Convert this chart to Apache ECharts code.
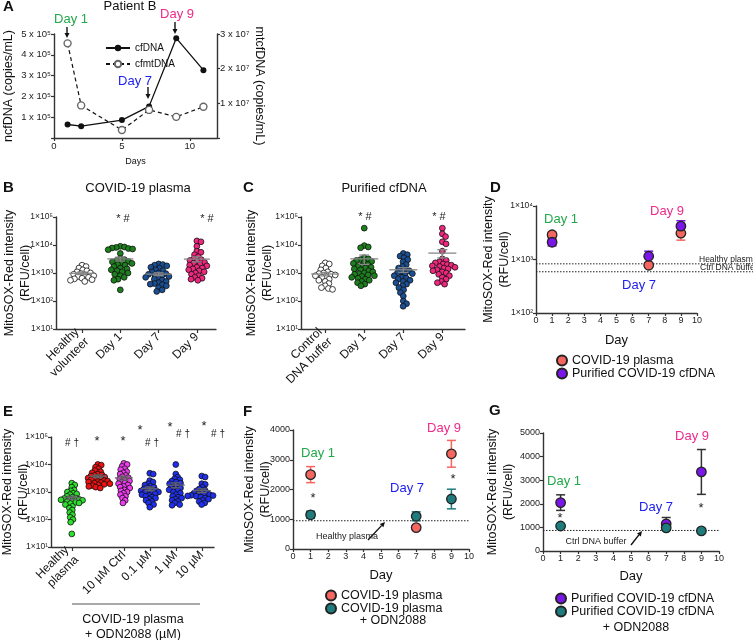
<!DOCTYPE html>
<html>
<head>
<meta charset="utf-8">
<script src="https://cdn.jsdelivr.net/npm/echarts@6/dist/echarts.min.js"></script>
<style>
html, body { margin: 0; padding: 0; background: #fff; }
#main { width: 753px; height: 640px; }
</style>
</head>
<body>
<div id="main"></div>
<script>
// ---- panel A: patient B time course
const daysA = [1, 2, 5, 7, 9, 11];
const cfDNA = [65000, 57000, 86000, 152000, 480000, 326000];
const cfmtDNA = [27300000, 9400000, 2300000, 8100000, 6100000, 9000000];

// ---- panel B: COVID-19 plasma (RFU/cell)
const catsB = ['Healthy\nvolunteer', 'Day 1', 'Day 7', 'Day 9'];
const bHealthy = [1900, 1700, 1500, 1300, 1200, 1100, 1000, 950, 900, 850, 800, 750, 700, 650, 620, 580, 550, 500];
const bDay1 = [9000, 8500, 8200, 7800, 7500, 7200, 6800, 5000, 3200, 3000, 2800, 2600, 2500, 2300, 2200, 2000, 1900, 1700, 1500, 1400, 1300, 1200, 1100, 1000, 900, 800, 700, 600, 550, 250];
const bDay7 = [2100, 2000, 1900, 1800, 1600, 1500, 1300, 1200, 1100, 1000, 950, 900, 850, 800, 750, 700, 650, 600, 550, 500, 450, 420, 400, 380, 350, 300, 250, 220];
const bDay9 = [14000, 13000, 9000, 6000, 5500, 4500, 3800, 3200, 3000, 2800, 2600, 2400, 2200, 2000, 1900, 1800, 1600, 1500, 1400, 1300, 1200, 1100, 1000, 900, 800, 700, 650, 600, 550];

// ---- panel C: purified cfDNA
const catsC = ['Control\nDNA buffer', 'Day 1', 'Day 7', 'Day 9'];
const cCtrl = [2300, 2100, 1800, 1500, 1300, 1100, 1000, 950, 900, 850, 800, 750, 700, 600, 550, 500, 420, 350, 300, 280, 260];
const cDay1 = [40000, 9500, 8500, 8000, 3500, 3200, 3000, 2800, 2600, 2400, 2200, 2000, 1800, 1700, 1600, 1500, 1400, 1300, 1200, 1100, 1000, 950, 900, 850, 800, 750, 700, 650, 600, 550, 500, 450, 400, 350];
const cDay7 = [5000, 4500, 4000, 3500, 3000, 2500, 2000, 1700, 1500, 1300, 1200, 1100, 1000, 950, 900, 800, 700, 650, 600, 550, 500, 450, 400, 350, 300, 250, 200, 150, 100, 80, 65];
const cDay9 = [40000, 25000, 20000, 13000, 11000, 6000, 3200, 2800, 2500, 2300, 2100, 2000, 1900, 1800, 1700, 1600, 1500, 1400, 1300, 1200, 1100, 1000, 900, 800, 700, 600, 500, 450, 400];

// ---- panel D: mean +/- SEM, log scale
const daysT = [1, 7, 9];
const plasmaD = [2900, 780, 3100];
const plasmaSemD = [350, 60, 800];
const cfdnaD = [2100, 1150, 4200];
const cfdnaSemD = [300, 280, 1100];
const healthyLineD = 830;
const ctrlLineD = 590;

// ---- panel E: plasma + ODN2088
const catsE = ['Healthy\nplasma', 'no ODN', '10 µM Ctrl', '0.1 µM', '1 µM', '10 µM'];
const eHealthy = [2100, 1800, 1500, 1200, 1100, 1000, 900, 850, 800, 700, 650, 600, 580, 560, 540, 520, 500, 480, 450, 420, 400, 380, 350, 300, 260, 220, 180, 150, 120, 100, 80, 30];
const eNoOdn = [10000, 9500, 8000, 7000, 6000, 5500, 5000, 4500, 4200, 4000, 3800, 3500, 3300, 3200, 3000, 2900, 2800, 2600, 2500, 2400, 2300, 2200, 2100, 2000, 1900, 1800, 1700, 1600, 1500, 1400];
const eCtrl10 = [11000, 10000, 8500, 7000, 6500, 5500, 5000, 4500, 4000, 3600, 3300, 3000, 2800, 2500, 2300, 2100, 2000, 1800, 1600, 1500, 1400, 1200, 1100, 1000, 900, 800, 700, 600, 500, 400];
const eOdn01 = [4800, 4500, 2600, 2300, 2000, 1800, 1600, 1500, 1400, 1300, 1200, 1150, 1100, 1050, 1000, 950, 900, 850, 800, 750, 700, 650, 600, 550, 500, 450, 400, 350, 280];
const eOdn1 = [10000, 4500, 3500, 3000, 2800, 2500, 2300, 2100, 2000, 1800, 1600, 1500, 1400, 1300, 1200, 1100, 1000, 900, 800, 700, 650, 600, 550, 500, 450, 400, 350, 330];
const eOdn10 = [3800, 3500, 2000, 1900, 1500, 1300, 1200, 1100, 1000, 950, 900, 850, 800, 780, 760, 740, 720, 700, 650, 600, 550, 500, 450, 400, 350];

// ---- panels F and G: mean +/- SEM, linear
const plasmaF = [2500, 720, 3200];
const plasmaSemF = [270, 60, 450];
const plasmaOdnF = [1150, 1100, 1680];
const plasmaOdnSemF = [120, 150, 330];
const healthyLineF = 950;
const cfdnaG = [2050, 1150, 3350];
const cfdnaSemG = [330, 270, 950];
const cfdnaOdnG = [1060, 980, 850];
const cfdnaOdnSemG = [50, 60, 30];
const ctrlLineG = 870;

const FF = '"Liberation Sans", Arial, sans-serif';
const AX = '#333';
const SUP = ['⁰', '¹', '²', '³', '⁴', '⁵', '⁶', '⁷'];
const C_PLASMA = '#F4665F', C_PURE = '#7B16E8', C_TEAL = '#1E7C7C';
const C_D1 = '#21A84A', C_D7 = '#2020F0', C_D9 = '#EE2A8A';

// simple beeswarm: spread points sideways in pixel space
function swarm(vals, idx, unitPx, decadePx, d) {
  const pts = [], out = [];
  const order = vals.map((v, i) => i).sort((a, b) => vals[b] - vals[a]);
  order.forEach(i => {
    const y = Math.log10(vals[i]) * decadePx;
    const near = pts.filter(p => Math.abs(p.y - y) < d);
    const cands = [0];
    near.forEach(p => {
      const w = Math.sqrt(d * d - (p.y - y) * (p.y - y));
      cands.push(p.x + w, p.x - w);
    });
    cands.sort((a, b) => Math.abs(a) - Math.abs(b));
    const x = cands.find(c => near.every(p => (p.x - c) * (p.x - c) + (p.y - y) * (p.y - y) >= d * d - 0.01));
    pts.push({ x, y });
    out.push([idx + x / unitPx, vals[i]]);
  });
  return out;
}

function meanSem(arr) {
  const n = arr.length;
  const m = arr.reduce((a, b) => a + b, 0) / n;
  const sd = Math.sqrt(arr.reduce((a, b) => a + (b - m) * (b - m), 0) / (n - 1));
  return [m, sd / Math.sqrt(n)];
}

function barRender(half, cap, color, lw) {
  return function (params, api) {
    const x = api.value(0), m = api.value(1), s = api.value(2);
    const c = api.coord([x, m]), t = api.coord([x, m + s]), b = api.coord([x, m - s]);
    const st = { stroke: color, lineWidth: lw };
    const kids = [
      { type: 'line', shape: { x1: c[0], y1: t[1], x2: c[0], y2: b[1] }, style: st },
      { type: 'line', shape: { x1: c[0] - cap, y1: t[1], x2: c[0] + cap, y2: t[1] }, style: st },
      { type: 'line', shape: { x1: c[0] - cap, y1: b[1], x2: c[0] + cap, y2: b[1] }, style: st }
    ];
    if (half > 0) kids.push({ type: 'line', shape: { x1: c[0] - half, y1: c[1], x2: c[0] + half, y2: c[1] }, style: st });
    return { type: 'group', children: kids };
  };
}

function axisBase(extra) {
  const a = {
    nameMoveOverlap: false,
    axisLine: { show: true, onZero: false, lineStyle: { color: AX, width: 1.4 } },
    axisTick: { show: true, length: 3, lineStyle: { color: AX, width: 1.2 } },
    axisLabel: { color: '#222', fontSize: 8.5, margin: 3, fontFamily: FF, hideOverlap: false, showMinLabel: true },
    splitLine: { show: false },
    nameTextStyle: { color: '#111', fontSize: 12.5, fontFamily: FF, lineHeight: 16 }
  };
  for (const k in extra) {
    if (typeof extra[k] === 'object' && !Array.isArray(extra[k]) && a[k]) Object.assign(a[k], extra[k]);
    else a[k] = extra[k];
  }
  return a;
}

const logFmt = v => '1×10' + SUP[Math.round(Math.log10(v))];
const plainFmt = v => String(v);
const YNAME = 'MitoSOX-Red intensity\n(RFU/cell)';

function logY(grid, gap, min, max) {
  return axisBase({ type: 'log', logBase: 10, gridIndex: grid, min: min, max: max,
    name: YNAME, nameLocation: 'middle', nameGap: gap,
    axisLabel: { formatter: logFmt } });
}
function catX(grid, cats, min, max) {
  const ticks = cats.map((c, i) => i);
  return axisBase({ type: 'value', gridIndex: grid, min: min, max: max,
    axisTick: { customValues: ticks, length: 4 },
    axisLabel: { customValues: ticks, formatter: v => cats[Math.round(v)], rotate: 45, fontSize: 12, margin: 6, color: '#111', lineHeight: 14 } });
}
function dayX(grid, gap) {
  return axisBase({ type: 'value', gridIndex: grid, min: 0, max: 10, interval: 1,
    name: 'Day', nameLocation: 'middle', nameGap: gap,
    nameTextStyle: { fontSize: 13 }, axisLabel: { fontSize: 9, formatter: plainFmt } });
}

const grids = [
  { left: 54, top: 34, width: 163, height: 104 },   // 0 A
  { left: 56, top: 217, width: 160, height: 112 },  // 1 B
  { left: 301, top: 217, width: 164, height: 112 }, // 2 C
  { left: 536, top: 206, width: 161, height: 107 }, // 3 D
  { left: 536, top: 206, width: 217, height: 107 }, // 4 D reference lines
  { left: 51, top: 437, width: 163, height: 110 },  // 5 E
  { left: 293, top: 430, width: 176, height: 119 }, // 6 F
  { left: 543, top: 433, width: 176, height: 118 }  // 7 G
].map(g => Object.assign({ outerBoundsMode: 'none', containLabel: false }, g));

const xAxes = [
  axisBase({ type: 'value', gridIndex: 0, min: 0, max: 12, interval: 5, name: 'Days', nameLocation: 'middle', nameGap: 16,
    nameTextStyle: { fontSize: 9 }, axisLabel: { fontSize: 9.5, showMaxLabel: false, formatter: plainFmt } }),
  catX(1, catsB, -0.68, 3.5),
  catX(2, catsC, -0.62, 3.58),
  dayX(3, 19),
  { type: 'value', gridIndex: 4, min: 0, max: 13.5, show: false },
  catX(5, catsE, -0.8, 5.47),
  dayX(6, 18),
  dayX(7, 17)
];

const yAxes = [
  axisBase({ type: 'value', gridIndex: 0, min: 0, max: 500000, interval: 100000, position: 'left',
    name: 'ncfDNA (copies/mL)', nameLocation: 'middle', nameGap: 37,
    axisLabel: { fontSize: 9.5, formatter: v => v === 0 ? '' : (v / 1e5) + ' x 10⁵' } }),
  axisBase({ type: 'value', gridIndex: 0, min: 0, max: 30000000, interval: 10000000, position: 'right',
    name: 'mtcfDNA (copies/mL)', nameLocation: 'middle', nameGap: 34, nameRotate: -90,
    axisLabel: { fontSize: 9.5, formatter: v => v === 0 ? '' : (v / 1e7) + ' x 10⁷' } }),
  logY(1, 22, 10, 100000),
  logY(2, 25, 10, 100000),
  logY(3, 23, 100, 10000),
  { type: 'log', logBase: 10, gridIndex: 4, min: 100, max: 10000, show: false },
  logY(5, 19, 10, 100000),
  axisBase({ type: 'value', gridIndex: 6, min: 0, max: 4000, interval: 1000, name: YNAME, nameLocation: 'middle', nameGap: 19,
    axisLabel: { fontSize: 9, formatter: plainFmt } }),
  axisBase({ type: 'value', gridIndex: 7, min: 0, max: 5000, interval: 1000, name: YNAME, nameLocation: 'middle', nameGap: 26,
    axisLabel: { fontSize: 9, formatter: plainFmt } })
];

const series = [];

// A
series.push({ name: 'cfDNA', type: 'line', xAxisIndex: 0, yAxisIndex: 0,
  data: daysA.map((d, i) => [d, cfDNA[i]]), symbol: 'circle', symbolSize: 6,
  lineStyle: { color: '#111', width: 1.3 }, itemStyle: { color: '#111' } });
series.push({ name: 'cfmtDNA', type: 'line', xAxisIndex: 0, yAxisIndex: 1,
  data: daysA.map((d, i) => [d, cfmtDNA[i]]), symbol: 'circle', symbolSize: 7,
  lineStyle: { color: '#111', width: 1.2, type: [4, 3] },
  itemStyle: { color: '#fff', borderColor: '#666', borderWidth: 1.4 } });

// B, C, E swarms with mean +/- SEM
const swarmPanels = [
  { grid: 1, y: 2, unit: 38.1, dec: 28, gap: 4.2, half: 13, lc: '#888', groups: [[bHealthy, '#fff'], [bDay1, '#1E7F1E'], [bDay7, '#1B4F93'], [bDay9, '#F0277F']] },
  { grid: 2, y: 3, unit: 39, dec: 28, gap: 4.2, half: 14, lc: '#888', groups: [[cCtrl, '#fff'], [cDay1, '#1E7F1E'], [cDay7, '#1B4F93'], [cDay9, '#F0277F']] },
  { grid: 5, y: 6, unit: 26, dec: 27.5, gap: 3.5, half: 9, lc: '#666', groups: [[eHealthy, '#2EE02E'], [eNoOdn, '#EE1111'], [eCtrl10, '#F03CF0'], [eOdn01, '#1F2FEE'], [eOdn1, '#1F2FEE'], [eOdn10, '#1F2FEE']] }
];
swarmPanels.forEach(p => {
  p.groups.forEach((g, i) => {
    series.push({ type: 'scatter', xAxisIndex: p.grid, yAxisIndex: p.y, symbolSize: 5.8,
      data: swarm(g[0], i, p.unit, p.dec, p.gap),
      itemStyle: { color: g[1], borderColor: '#111', borderWidth: 0.8, opacity: 1 }, z: 2 });
  });
  series.push({ type: 'custom', xAxisIndex: p.grid, yAxisIndex: p.y, z: 3,
    renderItem: barRender(p.half, 5, p.lc, 1.3), encode: { x: 0, y: 1 },
    data: p.groups.map((g, i) => [i].concat(meanSem(g[0]))) });
});

// D / F / G mean points with error bars
function pointPair(name, grid, yIdx, means, sems, color, barColor) {
  series.push({ type: 'custom', xAxisIndex: grid, yAxisIndex: yIdx, z: 3,
    renderItem: barRender(0, 4.5, barColor, 1.5), encode: { x: 0, y: 1 },
    data: daysT.map((d, i) => [d, means[i], sems[i]]) });
  series.push({ name: name, type: 'scatter', xAxisIndex: grid, yAxisIndex: yIdx, z: 4, symbolSize: 9.5,
    data: daysT.map((d, i) => [d, means[i]]),
    itemStyle: { color: color, borderColor: '#222', borderWidth: 1.3, opacity: 1 } });
}
pointPair('COVID-19 plasma', 3, 4, plasmaD, plasmaSemD, C_PLASMA, C_PLASMA);
pointPair('Purified COVID-19 cfDNA', 3, 4, cfdnaD, cfdnaSemD, C_PURE, C_PURE);
pointPair('COVID-19 plasma', 6, 7, plasmaF, plasmaSemF, C_PLASMA, C_PLASMA);
pointPair('COVID-19 plasma + ODN2088', 6, 7, plasmaOdnF, plasmaOdnSemF, C_TEAL, C_TEAL);
pointPair('Purified COVID-19 cfDNA', 7, 8, cfdnaG, cfdnaSemG, C_PURE, '#333');
pointPair('Purified COVID-19 cfDNA + ODN2088', 7, 8, cfdnaOdnG, cfdnaOdnSemG, C_TEAL, C_TEAL);

// dotted reference lines
const dotted = { color: '#222', width: 1, type: [1.5, 1.5] };
[healthyLineD, ctrlLineD].forEach(v => series.push({ type: 'line', xAxisIndex: 4, yAxisIndex: 5, symbol: 'none', z: 1,
  data: [[0, v], [13.5, v]], lineStyle: dotted, silent: true }));
series.push({ type: 'line', xAxisIndex: 6, yAxisIndex: 7, symbol: 'none', z: 1,
  data: [[0, healthyLineF], [10, healthyLineF]], lineStyle: dotted, silent: true });
series.push({ type: 'line', xAxisIndex: 7, yAxisIndex: 8, symbol: 'none', z: 1,
  data: [[0, ctrlLineG], [10, ctrlLineG]], lineStyle: dotted, silent: true });

// ---- text and arrows
function T(text, x, y, size, color, o) {
  o = o || {};
  return { type: 'text', x: x, y: y, z: 10, style: { text: text, fontSize: size, fontFamily: FF, fill: color,
    fontWeight: o.bold ? 'bold' : 'normal', align: o.align || 'center', verticalAlign: 'middle' } };
}
function arrow(x1, y1, x2, y2, h) {
  h = h || 5;
  const a = Math.atan2(y2 - y1, x2 - x1);
  const bx = x2 - h * Math.cos(a), by = y2 - h * Math.sin(a);
  const px = -Math.sin(a) * h * 0.5, py = Math.cos(a) * h * 0.5;
  return { type: 'group', z: 10, children: [
    { type: 'line', shape: { x1: x1, y1: y1, x2: bx, y2: by }, style: { stroke: '#111', lineWidth: 1.4 } },
    { type: 'polygon', shape: { points: [[x2, y2], [bx + px, by + py], [bx - px, by - py]] }, style: { fill: '#111' } }
  ] };
}

const graphics = [
  T('A', 3, 7, 15, '#111', { bold: true, align: 'left' }),
  T('B', 3, 188, 15, '#111', { bold: true, align: 'left' }),
  T('C', 243, 188, 15, '#111', { bold: true, align: 'left' }),
  T('D', 490, 188, 15, '#111', { bold: true, align: 'left' }),
  T('E', 3, 412, 15, '#111', { bold: true, align: 'left' }),
  T('F', 243, 412, 15, '#111', { bold: true, align: 'left' }),
  T('G', 489, 411, 15, '#111', { bold: true, align: 'left' }),
  T('Patient B', 130, 6, 13, '#111'),
  T('COVID-19 plasma', 138, 188, 13, '#111'),
  T('Purified cfDNA', 384, 188, 13, '#111'),
  // A
  T('Day 1', 71, 19, 13, C_D1), arrow(67, 27, 67, 38),
  T('Day 9', 177, 14, 13, C_D9), arrow(175, 22, 175, 34),
  T('Day 7', 135, 81, 13, C_D7), arrow(148, 87, 148, 99),
  // B, C
  T('* #', 123, 219, 11, '#222'), T('* #', 207, 219, 11, '#222'),
  T('* #', 365, 217, 11, '#222'), T('* #', 439, 217, 11, '#222'),
  // D
  T('Day 1', 561, 219, 13, C_D1), T('Day 9', 667, 211, 13, C_D9), T('Day 7', 639, 285, 13, C_D7),
  T('Healthy plasma', 699, 260, 8.5, '#222', { align: 'left' }),
  T('Ctrl DNA buffer', 700, 268, 8.5, '#222', { align: 'left' }),
  // E
  T('# †', 72, 443, 10, '#222'), T('*', 97, 441, 13, '#222'), T('*', 123, 441, 13, '#222'),
  T('*', 140, 430, 13, '#222'), T('# †', 152, 443, 10, '#222'),
  T('*', 170, 427, 13, '#222'), T('# †', 183, 434, 10, '#222'),
  T('*', 204, 426, 13, '#222'), T('# †', 218, 434, 10, '#222'),
  { type: 'line', z: 10, shape: { x1: 72, y1: 604, x2: 200, y2: 604 }, style: { stroke: '#555', lineWidth: 1 } },
  T('COVID-19 plasma', 133, 620, 12.5, '#111'),
  T('+ ODN2088 (µM)', 133, 635, 12.5, '#111'),
  // F
  T('Day 1', 318, 453, 13, C_D1), T('Day 9', 444, 428, 13, C_D9), T('Day 7', 407, 488, 13, C_D7),
  T('*', 313, 498, 13, '#222'), T('*', 453, 479, 13, '#222'),
  T('Healthy plasma', 347, 537, 9, '#222'), arrow(368, 540, 385, 522),
  T('+ ODN2088', 393, 621, 12.5, '#111'),
  // G
  T('Day 1', 564, 481, 13, C_D1), T('Day 9', 692, 436, 13, C_D9), T('Day 7', 656, 507, 13, C_D7),
  T('*', 560, 518, 13, '#222'), T('*', 701, 508, 13, '#222'),
  T('Ctrl DNA buffer', 596, 542, 9, '#222'), arrow(631, 545, 642, 531),
  T('+ ODN2088', 636, 628, 12.5, '#111')
];

const legTxt = { fontSize: 12.5, color: '#111', fontFamily: FF };
const legends = [
  { data: ['cfDNA', 'cfmtDNA'], orient: 'vertical', left: 100, top: 38, itemWidth: 24, itemHeight: 8, itemGap: 6,
    textStyle: { fontSize: 10, color: '#111', fontFamily: FF } },
  { data: ['COVID-19 plasma', 'Purified COVID-19 cfDNA'], orient: 'vertical', left: 551, top: 349, icon: 'circle',
    itemWidth: 10, itemHeight: 10, itemGap: 0, textStyle: legTxt },
  { data: ['COVID-19 plasma', 'COVID-19 plasma + ODN2088'], orient: 'vertical', left: 320, top: 584, icon: 'circle',
    itemWidth: 10, itemHeight: 10, itemGap: 0, textStyle: legTxt, formatter: n => n.replace(' + ODN2088', '') },
  { data: ['Purified COVID-19 cfDNA', 'Purified COVID-19 cfDNA + ODN2088'], orient: 'vertical', left: 550, top: 587, icon: 'circle',
    itemWidth: 10, itemHeight: 10, itemGap: 0, textStyle: legTxt, formatter: n => n.replace(' + ODN2088', '') }
];

const chart = echarts.init(document.getElementById('main'), null, { renderer: 'canvas' });
chart.setOption({
  animation: false,
  backgroundColor: '#fff',
  textStyle: { fontFamily: FF },
  grid: grids,
  xAxis: xAxes,
  yAxis: yAxes,
  legend: legends,
  series: series,
  graphic: graphics
});
</script>
</body>
</html>
